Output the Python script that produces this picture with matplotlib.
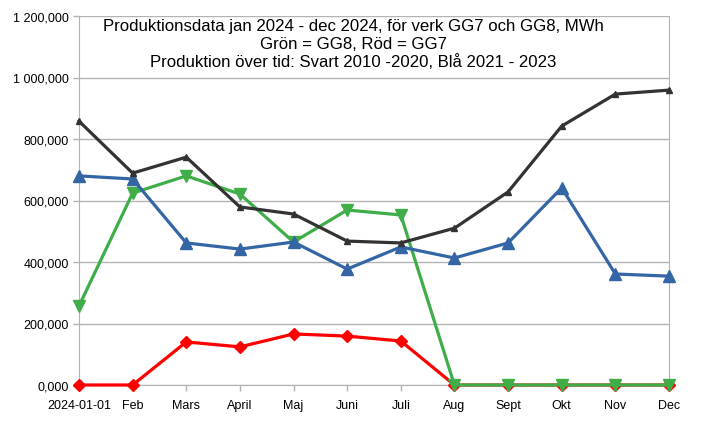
import numpy as np
import matplotlib.pyplot as plt
from matplotlib.ticker import FuncFormatter

plt.rcParams['font.family'] = ['Liberation Sans', 'DejaVu Sans']

months = ["2024-01-01", "Feb", "Mars", "April", "Maj", "Juni", "Juli",
          "Aug", "Sept", "Okt", "Nov", "Dec"]

# MWh per month
svart_2010_2020 = [858, 689, 741, 579, 556, 468, 462, 510, 628, 842, 946, 959]
bla_2021_2023 = [680, 670, 462, 442, 465, 377, 449, 413, 462, 641, 361, 354]
gg8_gron = [257, 624, 680, 621, 465, 569, 553, 0, 0, 0, 0, 0]
gg7_rod = [0, 0, 140, 124, 166, 159, 143, 0, 0, 0, 0, 0]

title = ("Produktionsdata jan 2024 - dec 2024, för verk GG7 och GG8, MWh\n"
         "Grön = GG8, Röd = GG7\n"
         "Produktion över tid: Svart 2010 -2020, Blå 2021 - 2023")


def fmt(v, pos):
    s = "{:,.3f}".format(v)
    return s.replace(",", " ").replace(".", ",")


fig = plt.figure(figsize=(7.08, 4.27), dpi=100)
ax = fig.add_axes([79/708, 1-386/427, 590/708, 369/427])

x = np.arange(len(months))
lw = 2.3
ax.plot(x, gg7_rod, color='#ff0000', lw=lw, marker='D', markersize=6, zorder=3, clip_on=False)
ax.plot(x, gg8_gron, color='#3fae49', lw=lw, marker='v', markersize=8, zorder=4, clip_on=False)
ax.plot(x, bla_2021_2023, color='#3465a4', lw=lw, marker='^', markersize=8, zorder=5, clip_on=False)
ax.plot(x, svart_2010_2020, color='#333333', lw=lw, marker='^', markersize=5, zorder=6, clip_on=False)

ax.set_xlim(0, 11)
ax.set_ylim(0, 1200)
ax.set_yticks(np.arange(0, 1201, 200))
ax.yaxis.set_major_formatter(FuncFormatter(fmt))
ax.set_xticks(x)
ax.set_xticklabels(months)
ax.grid(axis='y', color='#b3b3b3', lw=1)
ax.set_axisbelow(True)
for s in ['left', 'right', 'top', 'bottom']:
    ax.spines[s].set_color('#b3b3b3')
ax.spines['top'].set_visible(False)
ax.tick_params(colors='#b3b3b3', labelcolor='black', labelsize=9, length=4, width=1)
ax.tick_params(axis='x', pad=6)

fig.text(0.499, 1-19/427, title, ha='center', va='top', fontsize=12.1,
         linespacing=1.22)

fig.savefig('out.png', dpi=100)
